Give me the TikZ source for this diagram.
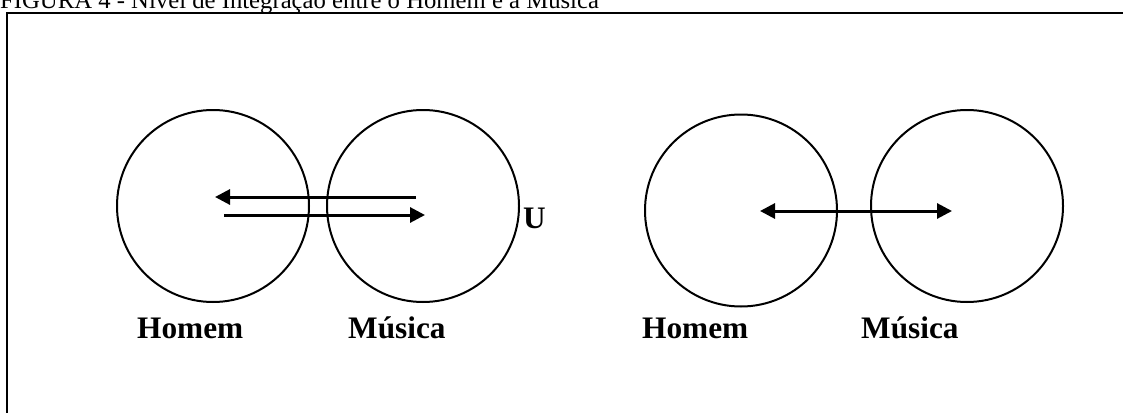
\documentclass[tikz,border=0pt]{standalone}
\usepackage{fontspec}
\setmainfont{Liberation Serif}
\usetikzlibrary{arrows.meta}
\tikzset{
  ring/.style={draw=black, line width=2pt, circle, minimum size=192pt, inner sep=0pt},
  lbl/.style={anchor=base west, inner sep=0pt, font=\fontsize{31.3pt}{34pt}\selectfont\bfseries},
  conn/.style={line width=3pt, -{Triangle[length=15pt,width=15pt]}},
  dconn/.style={line width=3pt, {Triangle[length=15pt,width=15pt]}-{Triangle[length=15pt,width=15pt]}},
}
\begin{document}
\begin{tikzpicture}[x=1pt,y=-1pt]
\clip (0,0) rectangle (1123,412);
\fill[white] (0,0) rectangle (1123,412);
% title
\node[anchor=base west, inner sep=0pt, font=\fontsize{24.7pt}{28pt}\selectfont] (title) at (0,8.5) {FIGURA 4 - Nível de Integração entre o Homem e a Música};
% frame
\draw[line width=2pt] (1140,13) -- (7,13) -- (7,430);
% left pair
\node[ring] (h1) at (213,206) {};
\node[ring] (m1) at (423,206) {};
\coordinate (a1s) at (416,197);
\coordinate (a1e) at (215,197);
\coordinate (a2s) at (224,215);
\coordinate (a2e) at (425,215);
\draw[conn] (a1s) -- (a1e);
\draw[conn] (a2s) -- (a2e);
\node[lbl] (u) at (523,228) {U};
\node[lbl] (lh1) at (137,338) {Homem};
\node[lbl] (lm1) at (348,338) {Música};
% right pair
\node[ring] (h2) at (741,210.5) {};
\node[ring] (m2) at (967,206) {};
\coordinate (b1) at (760,211);
\coordinate (b2) at (952,211);
\draw[dconn] (b1) -- (b2);
\node[lbl] (lh2) at (642,338) {Homem};
\node[lbl] (lm2) at (861,338) {Música};
\end{tikzpicture}
\end{document}
